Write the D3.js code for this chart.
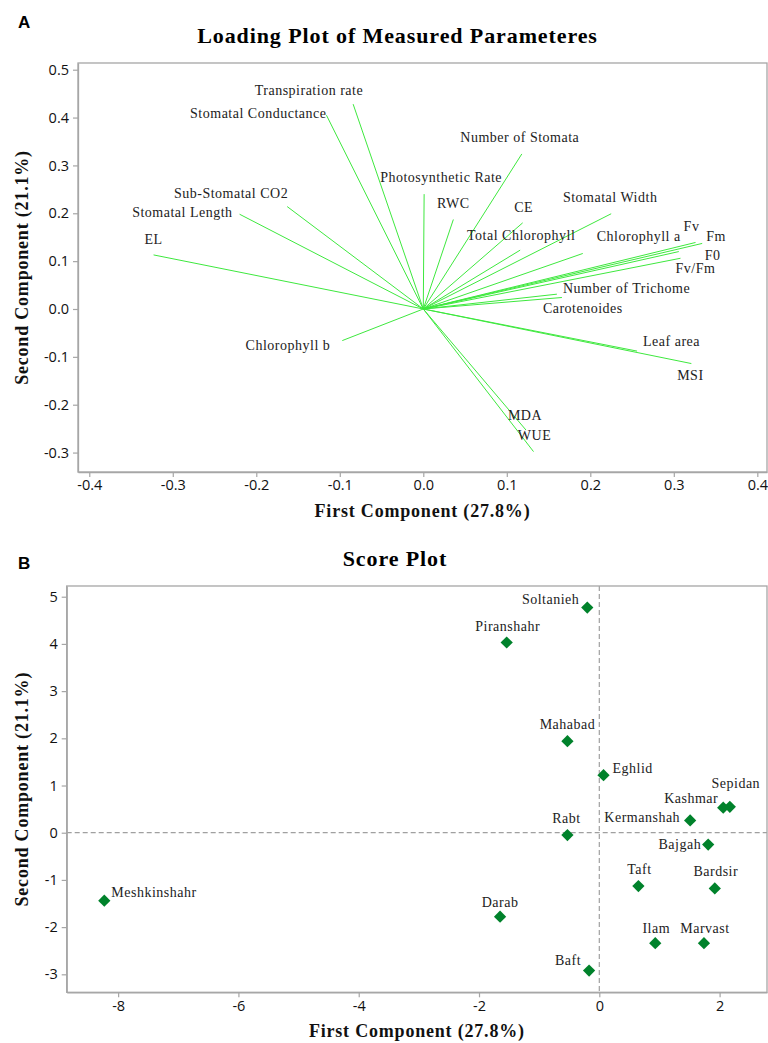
<!DOCTYPE html>
<html>
<head>
<meta charset="utf-8">
<script src="https://cdn.jsdelivr.net/npm/d3@7"></script>
<style>
  html, body { margin: 0; padding: 0; background: #fff; }
  svg { display: block; }
  .tick text { font-family: "Open Sans", "Noto Sans", sans-serif; font-size: 14.5px; fill: #111; }
  .lbl { font-family: "Liberation Serif", "Times New Roman", serif; font-size: 14px; letter-spacing: 0.5px; fill: #222; }
  .title { font-family: "Liberation Serif", "Times New Roman", serif; font-weight: bold; font-size: 22px; letter-spacing: 0.9px; fill: #000; }
  .axtitle { font-family: "Liberation Serif", "Times New Roman", serif; font-weight: bold; font-size: 18px; letter-spacing: 0.8px; fill: #111; }
  .panel { font-family: "Liberation Sans", Arial, sans-serif; font-weight: bold; font-size: 17px; fill: #000; }
</style>
</head>
<body>
<svg id="chart" width="768" height="1043"></svg>
<script>
// ---- Loading plot: variable loadings on PC1 / PC2 ----
const variables = [
  "Transpiration rate", "Stomatal Conductance", "Sub-Stomatal CO2", "Stomatal Length", "EL",
  "Photosynthetic Rate", "RWC", "Number of Stomata", "CE", "Total Chlorophyll",
  "Stomatal Width", "Chlorophyll a", "Fv", "Fm", "F0", "Fv/Fm",
  "Number of Trichome", "Carotenoides", "Leaf area", "MSI", "MDA", "WUE", "Chlorophyll b"
];
const loadingPC1 = [
  -0.084, -0.116, -0.163, -0.220, -0.323,
  0.001, 0.036, 0.118, 0.119, 0.116,
  0.225, 0.191, 0.326, 0.334, 0.306, 0.308,
  0.160, 0.166, 0.256, 0.321, 0.123, 0.132, -0.097
];
const loadingPC2 = [
  0.428, 0.405, 0.214, 0.198, 0.113,
  0.240, 0.187, 0.324, 0.180, 0.123,
  0.199, 0.116, 0.139, 0.137, 0.120, 0.106,
  0.031, 0.024, -0.088, -0.114, -0.253, -0.298, -0.066
];
const loadingTicksX = [-0.4, -0.3, -0.2, -0.1, 0.0, 0.1, 0.2, 0.3, 0.4];
const loadingTicksY = [-0.3, -0.2, -0.1, 0.0, 0.1, 0.2, 0.3, 0.4, 0.5];

// ---- Score plot: genotype scores on PC1 / PC2 ----
const sites = [
  "Soltanieh", "Piranshahr", "Mahabad", "Eghlid", "Sepidan", "Kashmar", "Kermanshah", "Rabt",
  "Bajgah", "Taft", "Bardsir", "Darab", "Ilam", "Marvast", "Baft", "Meshkinshahr"
];
const scorePC1 = [-0.20, -1.54, -0.53, 0.07, 2.17, 2.06, 1.51, -0.53, 1.81, 0.65, 1.92, -1.65, 0.93, 1.74, -0.17, -8.23];
const scorePC2 = [4.77, 4.03, 1.94, 1.22, 0.55, 0.53, 0.26, -0.05, -0.25, -1.13, -1.18, -1.78, -2.34, -2.34, -2.92, -1.44];
const scoreTicksX = [-8, -6, -4, -2, 0, 2];
const scoreTicksY = [-3, -2, -1, 0, 1, 2, 3, 4, 5];

// label placement: [anchor, dx, dy] relative to the mark, in pixels
const loadingLabelPos = {
  "Transpiration rate": ["end", 10, -9],
  "Stomatal Conductance": ["end", 0, 3],
  "Sub-Stomatal CO2": ["end", 1, -9],
  "Stomatal Length": ["end", -7, 3],
  "EL": ["middle", 0, -11],
  "Photosynthetic Rate": ["middle", 17, -12],
  "RWC": ["middle", 0, -11],
  "Number of Stomata": ["middle", -2, -12],
  "CE": ["middle", 1, -11],
  "Total Chlorophyll": ["middle", 1, -10],
  "Stomatal Width": ["middle", -1, -12],
  "Chlorophyll a": ["start", 14, -12],
  "Fv": ["middle", -4, -11],
  "Fm": ["start", 4, -2],
  "F0": ["start", 26, 8],
  "Fv/Fm": ["start", -5, 15],
  "Number of Trichome": ["start", 6, -1],
  "Carotenoides": ["start", -19, 15],
  "Leaf area": ["start", 6, -5],
  "MSI": ["middle", -1, 16],
  "MDA": ["middle", -1, -10],
  "WUE": ["middle", 1, -12],
  "Chlorophyll b": ["end", -12, 9]
};
const scoreLabelPos = {
  "Soltanieh": ["end", -8, -4],
  "Piranshahr": ["middle", 1, -11],
  "Mahabad": ["middle", 0, -12],
  "Eghlid": ["start", 9, -2],
  "Sepidan": ["middle", 6, -19],
  "Kashmar": ["end", -5, -5],
  "Kermanshah": ["end", -10, 2],
  "Rabt": ["middle", -1, -12],
  "Bajgah": ["end", -7, 4],
  "Taft": ["middle", 1, -12],
  "Bardsir": ["middle", 1, -12],
  "Darab": ["middle", 0, -10],
  "Ilam": ["middle", 1, -10],
  "Marvast": ["middle", 1, -10],
  "Baft": ["end", -8, -6],
  "Meshkinshahr": ["start", 7, -4]
};

const svg = d3.select("#chart");
const frameColor = "#a6a6a6";
const hyphen = s => s.replace("\u2212", "-");

function drawFrame(g, x, y, ticksX, ticksY, fmtX, fmtY) {
  const [x0, x1] = x.range();
  const [y0, y1] = y.range();
  g.append("rect")
    .attr("x", x0).attr("y", y1)
    .attr("width", x1 - x0).attr("height", y0 - y1)
    .attr("fill", "none").attr("stroke", frameColor).attr("stroke-width", 1.3);

  const ax = g.append("g").attr("transform", `translate(0,${y0})`)
    .call(d3.axisBottom(x).tickValues(ticksX).tickFormat(d => hyphen(fmtX(d))).tickSize(5).tickPadding(3).tickSizeOuter(0));
  const ay = g.append("g").attr("transform", `translate(${x0},0)`)
    .call(d3.axisLeft(y).tickValues(ticksY).tickFormat(d => hyphen(fmtY(d))).tickSize(5).tickPadding(4).tickSizeOuter(0));
  [ax, ay].forEach(a => {
    a.select(".domain").attr("stroke", frameColor).attr("stroke-width", 1.3);
    a.selectAll(".tick line").attr("stroke", frameColor).attr("stroke-width", 1.2);
    a.selectAll(".tick text").attr("font-family", null).attr("font-size", null);
  });
}

function axisTitles(x, y, xTitleBaseline) {
  const [x0, x1] = x.range();
  const [y0, y1] = y.range();
  svg.append("text").attr("class", "axtitle")
    .attr("x", (x0 + x1) / 2).attr("y", xTitleBaseline)
    .attr("text-anchor", "middle").text("First Component (27.8%)");
  svg.append("text").attr("class", "axtitle")
    .attr("transform", `translate(28,${(y0 + y1) / 2}) rotate(-90)`)
    .attr("text-anchor", "middle").text("Second Component (21.1%)");
}

// ================= A: Loading plot =================
{
  const x = d3.scaleLinear().domain([-0.4135, 0.4116]).range([78, 767]);
  const y = d3.scaleLinear().domain([-0.3406, 0.514]).range([472, 63]);
  const g = svg.append("g");

  svg.append("text").attr("class", "panel").attr("x", 18).attr("y", 28).text("A");
  svg.append("text").attr("class", "title").attr("x", 397.5).attr("y", 43)
    .attr("text-anchor", "middle").text("Loading Plot of Measured Parameteres");

  drawFrame(g, x, y, loadingTicksX, loadingTicksY, d3.format(".1f"), d3.format(".1f"));

  const rows = variables.map((v, i) => ({ name: v, pc1: loadingPC1[i], pc2: loadingPC2[i] }));

  g.append("g").selectAll("line").data(rows).join("line")
    .attr("x1", x(0)).attr("y1", y(0))
    .attr("x2", d => x(d.pc1)).attr("y2", d => y(d.pc2))
    .attr("stroke", "#3ee83e").attr("stroke-width", 1);

  g.append("g").selectAll("text").data(rows).join("text")
    .attr("class", "lbl")
    .attr("text-anchor", d => loadingLabelPos[d.name][0])
    .attr("x", d => x(d.pc1) + loadingLabelPos[d.name][1])
    .attr("y", d => y(d.pc2) + loadingLabelPos[d.name][2])
    .text(d => d.name);

  axisTitles(x, y, 517);
}

// ================= B: Score plot =================
{
  const x = d3.scaleLinear().domain([-8.855, 2.788]).range([66.7, 767]);
  const y = d3.scaleLinear().domain([-3.381, 5.227]).range([992.3, 586]);
  const g = svg.append("g");

  svg.append("text").attr("class", "panel").attr("x", 18).attr("y", 569).text("B");
  svg.append("text").attr("class", "title").attr("x", 395).attr("y", 566)
    .attr("text-anchor", "middle").text("Score Plot");

  // zero reference lines
  g.append("line")
    .attr("x1", x(0)).attr("x2", x(0)).attr("y1", y.range()[1]).attr("y2", y.range()[0])
    .attr("stroke", "#a0a0a0").attr("stroke-width", 1.2).attr("stroke-dasharray", "5,3");
  g.append("line")
    .attr("x1", x.range()[0]).attr("x2", x.range()[1]).attr("y1", y(0)).attr("y2", y(0))
    .attr("stroke", "#a0a0a0").attr("stroke-width", 1.2).attr("stroke-dasharray", "5,3");

  drawFrame(g, x, y, scoreTicksX, scoreTicksY, d3.format("d"), d3.format("d"));

  const rows = sites.map((s, i) => ({ name: s, pc1: scorePC1[i], pc2: scorePC2[i] }));

  g.append("g").selectAll("path").data(rows).join("path")
    .attr("d", d3.symbol(d3.symbolSquare, 75))
    .attr("transform", d => `translate(${x(d.pc1)},${y(d.pc2)}) rotate(45)`)
    .attr("fill", "#00822b");

  g.append("g").selectAll("text").data(rows).join("text")
    .attr("class", "lbl")
    .attr("text-anchor", d => scoreLabelPos[d.name][0])
    .attr("x", d => x(d.pc1) + scoreLabelPos[d.name][1])
    .attr("y", d => y(d.pc2) + scoreLabelPos[d.name][2])
    .text(d => d.name);

  axisTitles(x, y, 1037);
}
</script>
</body>
</html>
